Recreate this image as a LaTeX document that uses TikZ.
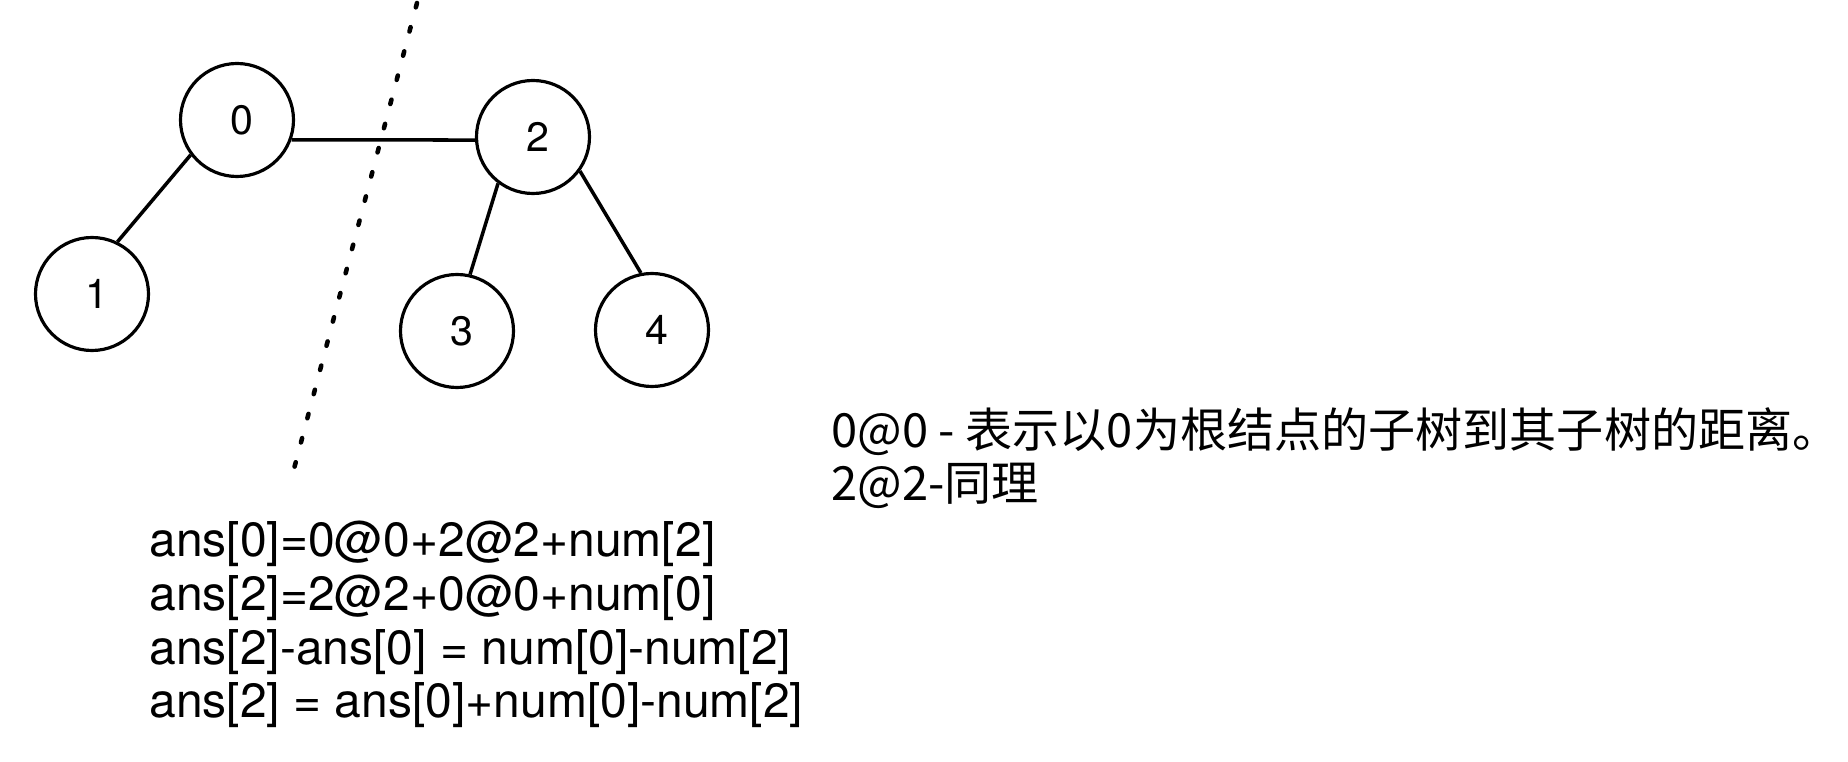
\documentclass[tikz,border=0pt]{standalone}
\usepackage{fontspec}
\setmainfont{TeX Gyre Heros}
\newfontfamily\cjk{Noto Sans CJK SC}
\usepackage{xcolor}
\definecolor{Black}{RGB}{0,0,0}
\definecolor{White}{RGB}{255,255,255}
\newcommand{\eqFont}	{ \fontsize{13.66pt}{15.4pt}\selectfont }
\newcommand{\noteFont}	{ \cjk\fontsize{13.4pt}{15.1pt}\selectfont }
\newcommand{\keyFont}	{ \fontsize{11.7pt}{13pt}\selectfont }
\usepackage{tikz}
\begin{document}
\begin{tikzpicture}[x=0.1mm, y=-0.1mm,
		vertex/.style={circle, draw=Black, line width=0.9pt, minimum size=11.3mm, inner sep=0pt, font=\keyFont},
		edge/.style={draw=Black, line width=1pt},
		cut/.style={draw=Black, line width=1.3pt, line cap=round, dash pattern=on 0.45mm off 2.05mm}]
		
		\useasboundingbox[fill=White] (0,0) rectangle (1848,762);
		
		% Circles
		\node[vertex] (n0) at (237,120) {0};
		\node[vertex] (n1) at (92,294) {1};
		\node[vertex] (n2) at (533,137) {2};
		\node[vertex] (n3) at (457,331) {3};
		\node[vertex] (n4) at (652,330) {4};
		
		% Lines
		\draw[edge] (n0.-20) -- (n2.183);
		\draw[edge] (n0.217) -- (n1.64);
		\draw[edge] (n2.233) -- (n3.77);
		\draw[edge] (n2.324) -- (n4.101);
		
		% Cut
		\coordinate (cutTop) at (417,3);
		\coordinate (cutBot) at (290,484);
		\draw[cut] (cutTop) -- (cutBot);
		
		% Text
		\node[anchor=base west, inner sep=0pt, font=\eqFont] (l1) at (139,557) {ans[0]=0@0+2@2+num[2]};
		\node[anchor=base west, inner sep=0pt, font=\eqFont] (l2) at (139,611) {ans[2]=2@2+0@0+num[0]};
		\node[anchor=base west, inner sep=0pt, font=\eqFont] (l3) at (139,665) {ans[2]-ans[0] = num[0]-num[2]};
		\node[anchor=base west, inner sep=0pt, font=\eqFont] (l4) at (139,718) {ans[2] = ans[0]+num[0]-num[2]};
		
		\node[anchor=base west, inner sep=0pt, font=\noteFont] (r1) at (821,448) {0@0 - 表示以0为根结点的子树到其子树的距离。};
		\node[anchor=base west, inner sep=0pt, font=\noteFont] (r2) at (821,501) {2@2-同理};
		
	\end{tikzpicture}
\end{document}
